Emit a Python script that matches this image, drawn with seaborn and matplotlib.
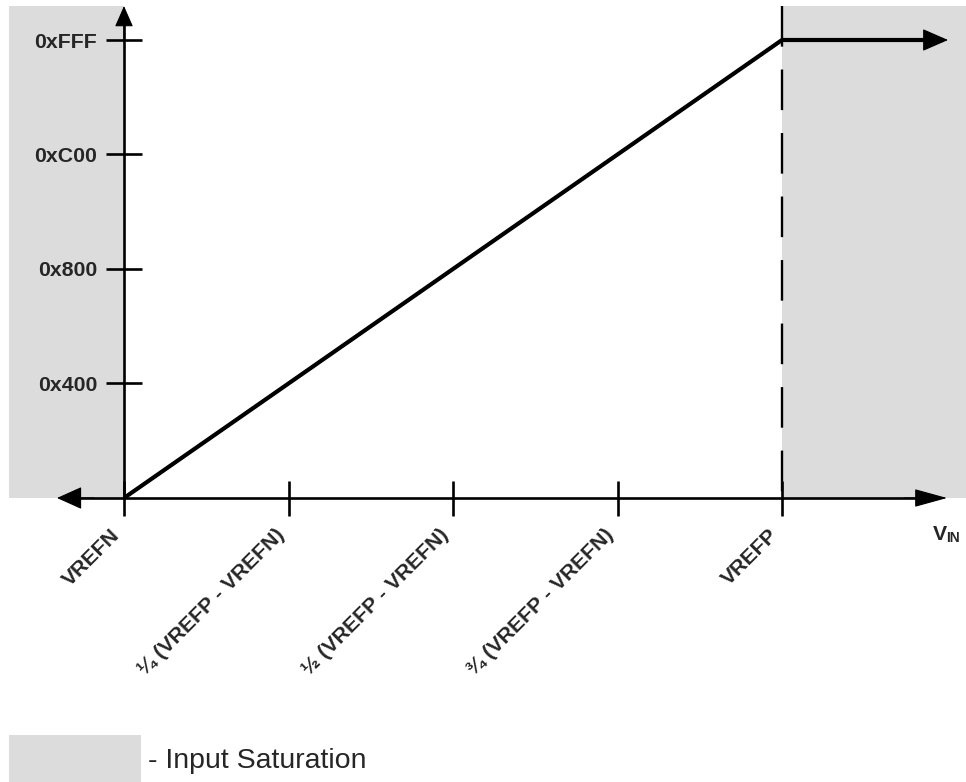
import matplotlib
matplotlib.use("Agg")
import matplotlib.pyplot as plt
import matplotlib.transforms as mtransforms
from matplotlib.patches import Rectangle
import pandas as pd
import seaborn as sns

# ---------------- data ----------------
VIN_POINTS = [0.0, 1.0, 1.245]          # input, as fraction of (VREFP - VREFN)
CODE_POINTS = [0, 4095, 4095]           # ADC output code
X_TICKS = [0.0, 0.25, 0.5, 0.75, 1.0]
X_TICK_LABELS = ["VREFN", "¼ (VREFP - VREFN)", "½ (VREFP - VREFN)",
                 "¾ (VREFP - VREFN)", "VREFP"]
Y_TICKS = [1024, 2048, 3072, 4095]
Y_TICK_LABELS = ["0x400", "0x800", "0xC00", "0xFFF"]
LEGEND_LABEL = "- Input Saturation"

# ---------------- style ----------------
sns.set_style("white")
plt.rcParams["font.family"] = ["Liberation Sans", "DejaVu Sans"]
GREY = "#DCDCDC"

W, H = 966, 782
fig = plt.figure(figsize=(W / 100, H / 100), dpi=100)
ax = fig.add_axes([0, 0, 1, 1])

# pixel scale: x axis origin at px 124, 658 px per full span; y origin at px 498
PXX = 658.0
PXY = 458.0 / 4095.0
def dx(px):
    return px / PXX
def dy(px):
    return px / PXY

ax.set_xlim(dx(-124), dx(W - 124))
ax.set_ylim(dy(-(H - 498)), dy(498))
ax.axis("off")

# saturation regions
ax.fill_between([dx(-115), 0], 0, dy(492), color=GREY, lw=0, zorder=0)
ax.fill_between([X_TICKS[-1], dx(W - 124)], 0, dy(492), color=GREY, lw=0, zorder=0)

# dashed VREFP line
ax.plot([X_TICKS[-1], X_TICKS[-1]], [dy(492), 0], color="black", lw=1.7,
        linestyle=(0, (17.2, 9.7)), solid_capstyle="butt", zorder=2)

# axes lines
ax.plot([dx(-60), dx(800)], [0, 0], color="black", lw=1.9, zorder=3)
ax.plot([0, 0], [0, dy(475)], color="black", lw=1.9, zorder=3)

# ticks
ax.vlines(X_TICKS, -dy(18), dy(17), color="black", lw=1.9, zorder=3)
ax.hlines(Y_TICKS, -dx(18), dx(18), color="black", lw=1.9, zorder=3)

# transfer function
df = pd.DataFrame({"vin": VIN_POINTS, "code": CODE_POINTS})
sns.lineplot(data=df, x="vin", y="code", sort=False, estimator=None,
             color="black", lw=3, ax=ax, zorder=5)
ax.lines[-1].set_solid_joinstyle("miter")
ax.lines[-1].set_solid_capstyle("butt")

def head(tip, base, hl, hw):
    ax.annotate("", xy=tip, xytext=base,
                arrowprops=dict(arrowstyle=f"-|>,head_length={hl},head_width={hw}",
                                mutation_scale=1, lw=0.8, color="black",
                                shrinkA=0, shrinkB=0),
                zorder=6)

# arrow heads
head((dx(824), 4095), (dx(790), 4095), 16.5, 7.2)      # saturation
head((dx(823), 0), (dx(780), 0), 21, 5.8)               # x axis right
head((dx(-67), 0), (dx(-30), 0), 16, 7.2)               # x axis left
head((0, dy(492)), (0, dy(460)), 13.2, 5.8)             # y axis top

# y tick labels
ytr = mtransforms.offset_copy(ax.transData, fig=fig, x=-27, y=-7.5, units="dots")
for y, lab in zip(Y_TICKS, Y_TICK_LABELS):
    ax.text(0, y, lab, transform=ytr, ha="right", va="baseline",
            fontsize=15.3, fontweight="bold")

# x tick labels
xtr = mtransforms.offset_copy(ax.transData, fig=fig, x=-3, y=-38, units="dots")
for x, lab in zip(X_TICKS, X_TICK_LABELS):
    ax.text(x, 0, lab, transform=xtr, ha="right", va="baseline",
            rotation=45, rotation_mode="anchor",
            fontsize=15.3, fontweight="bold")

# V_IN label
fig.text(933 / W, (H - 540) / H, "V", fontsize=15.3, fontweight="bold",
         ha="left", va="baseline")
fig.text(946 / W, (H - 542) / H, "IN", fontsize=10, fontweight="bold",
         ha="left", va="baseline")

# legend
fig.add_artist(Rectangle((9 / W, 0), 132 / W, 47 / H, transform=fig.transFigure,
                         facecolor=GREY, edgecolor="none"))
fig.text(148 / W, (H - 768) / H, LEGEND_LABEL, fontsize=20.5,
         ha="left", va="baseline")

fig.savefig("out.png", dpi=100)
